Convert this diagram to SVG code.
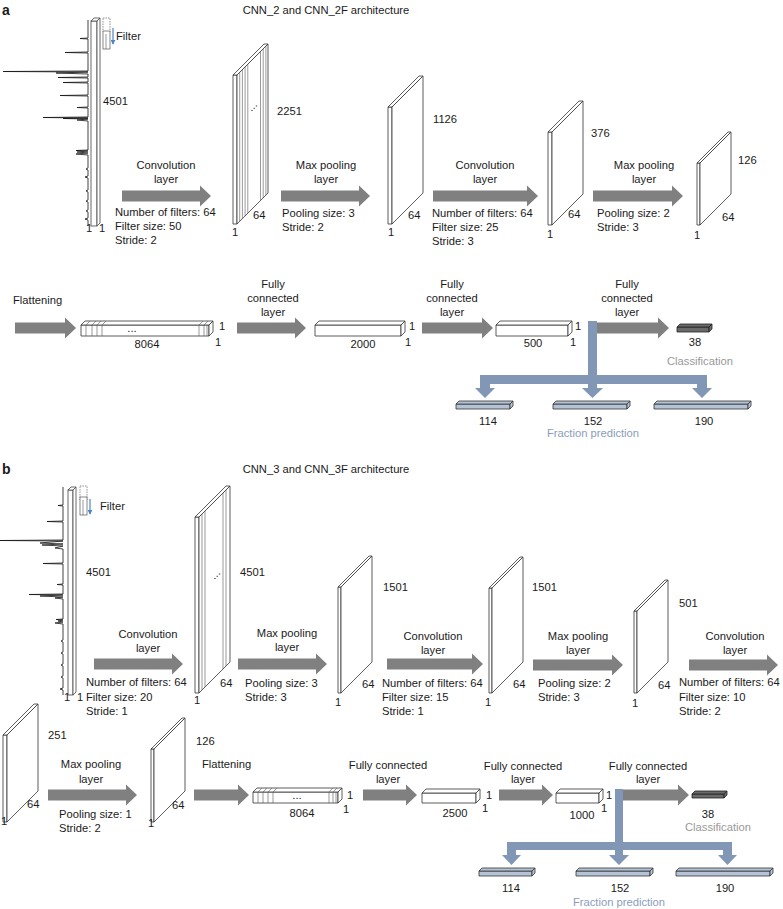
<svg xmlns="http://www.w3.org/2000/svg" width="783" height="909" viewBox="0 0 783 909">
<style>
text{font-family:"Liberation Sans",Arial,sans-serif;font-size:11.2px;fill:#1a1a1a}
.m{text-anchor:middle}
.lab{font-weight:bold;font-size:14px}
.arr{fill:#808080}
.blue{fill:#8197b5}
.slab{fill:#fff;stroke:#333;stroke-width:0.8;stroke-linejoin:round}
.str{stroke:#555;stroke-width:0.6;fill:none}
.bar{fill:#fff;stroke:#333;stroke-width:0.8;stroke-linejoin:round}
.dark{fill:#6a6a6a;stroke:#222;stroke-width:0.8;stroke-linejoin:round}
.fb{fill:#b5c3d6;stroke:#333;stroke-width:0.8;stroke-linejoin:round}
.spec{fill:none;stroke:#111;stroke-width:0.8;stroke-linejoin:round}
.col{fill:#fff;stroke:#444;stroke-width:0.8}
.dash{fill:none;stroke:#666;stroke-width:0.7;stroke-dasharray:1.5 1}
.fil{fill:#fff;stroke:#555;stroke-width:0.7}
.gray{fill:#999}
.fp{fill:#8a9dba}
</style>
<defs>
<marker id="bh" viewBox="0 0 6 6" refX="5" refY="3" markerWidth="5" markerHeight="5" orient="auto" markerUnits="userSpaceOnUse"><path d="M0,0 L6,3 L0,6 Z" fill="#4a86c8"/></marker>
</defs>

<!-- ===== Panel a ===== -->
<text class="lab" x="2" y="15">a</text>
<text class="m" x="326" y="14">CNN_2 and CNN_2F architecture</text>

<g id="a-input">
<path class="spec" d="M88,20 V38 L80,38.5 L88,39 V52 L65,52.5 L88,53 V71 L3,71.5 L88,72 L56,73 L88,74 V77 L58,77.5 L88,78 V82 L63,82.5 L88,83 V95 L60,95.5 L88,96 V107 L77,107.5 L88,108 V117 L43,117.5 L88,118 L63,118.5 L88,119 L77,120 L88,121 V150 L76,150.5 L88,151 L77,152 L88,153 L76,154 L88,155 V168 L86,169 L88,170 V176 L85,177 L88,178 V190 L86,191 L88,192 V200 L86,201 L88,202 V210 L86,211 L88,212 V218 L85,219 L88,220 V226"/>
<rect class="col" x="91" y="21" width="6" height="205"/>
<polygon class="col" points="91,21 94,18 100,18 97,21"/>
<polygon class="col" points="97,21 100,18 100,223 97,226"/>
<rect class="dash" x="103" y="18" width="7" height="14"/>
<rect class="fil" x="103" y="31" width="7" height="18"/>
<line class="str" x1="106" y1="34" x2="106" y2="49"/>
<line x1="113" y1="28" x2="113" y2="44" stroke="#4a86c8" stroke-width="1.2" marker-end="url(#bh)"/>
<text x="116" y="40">Filter</text>
<text x="103" y="105">4501</text>
<text class="m" x="89" y="232">1</text>
<text class="m" x="102" y="232">1</text>
</g>

<g id="a-conv1">
<rect class="slab" x="233" y="75" width="4" height="149"/>
<polygon class="slab" points="233,75 264,44 268,44 237,75"/>
<polygon class="slab" points="237,75 268,44 268,193 237,224"/>
<path class="str" d="M239.7,72.3 V221.3 M242.4,69.6 V218.6 M245.1,66.9 V215.9 M247.8,64.2 V213.2 M260.5,51.5 V200.5 M263.2,48.8 V197.8 M265.9,46.1 V195.1"/>
<text x="248" y="110" transform="rotate(-45 252 107)" font-size="9">...</text>
<text x="277" y="115">2251</text>
<text x="253" y="219">64</text>
<text class="m" x="235" y="236">1</text>
</g>

<g id="a-pool1">
<rect class="slab" x="388" y="107" width="4" height="117"/>
<polygon class="slab" points="388,107 419,76 423,76 392,107"/>
<polygon class="slab" points="392,107 423,76 423,193 392,224"/>
<text x="433" y="123">1126</text>
<text x="408" y="219">64</text>
<text class="m" x="391" y="236">1</text>
</g>

<g id="a-conv2">
<rect class="slab" x="548" y="132" width="4" height="93"/>
<polygon class="slab" points="548,132 579,101 583,101 552,132"/>
<polygon class="slab" points="552,132 583,101 583,194 552,225"/>
<text x="591" y="137">376</text>
<text x="568" y="218">64</text>
<text class="m" x="550" y="238">1</text>
</g>

<g id="a-pool2">
<rect class="slab" x="697" y="163" width="3" height="62"/>
<polygon class="slab" points="697,163 728,132 731,132 700,163"/>
<polygon class="slab" points="700,163 731,132 731,194 700,225"/>
<text x="738" y="164">126</text>
<text x="722" y="221">64</text>
<text class="m" x="697" y="239">1</text>
</g>

<g id="a-flat">
<rect class="bar" x="81" y="325" width="128" height="11"/>
<polygon class="bar" points="81,325 85,321 213,321 209,325"/>
<polygon class="bar" points="209,325 213,321 213,332 209,336"/>
<path class="str" d="M86,325 V336 M86,325 L90,321 M92,325 V336 M92,325 L96,321 M97,325 V336 M97,325 L101,321 M102,325 V336 M102,325 L106,321 M199,325 V336 M199,325 L203,321 M204,325 V336 M204,325 L208,321 M207,325 V336"/>
<text class="m" x="132" y="332">...</text>
<text class="m" x="147" y="348">8064</text>
<text x="219" y="330">1</text>
<text x="215" y="346">1</text>
</g>

<g id="a-fc1">
<rect class="bar" x="315" y="325" width="86" height="11"/>
<polygon class="bar" points="315,325 319,321 405,321 401,325"/>
<polygon class="bar" points="401,325 405,321 405,332 401,336"/>
<text class="m" x="363" y="348">2000</text>
<text x="409" y="330">1</text>
<text x="405" y="346">1</text>
</g>

<g id="a-fc2">
<rect class="bar" x="496" y="325" width="72" height="11"/>
<polygon class="bar" points="496,325 500,321 572,321 568,325"/>
<polygon class="bar" points="568,325 572,321 572,332 568,336"/>
<text class="m" x="533" y="347">500</text>
<text x="575" y="330">1</text>
<text x="570" y="346">1</text>
</g>

<g id="a-cls">
<rect class="dark" x="677" y="327" width="32" height="5"/>
<polygon class="dark" points="677,327 680,324 712,324 709,327"/>
<polygon class="dark" points="709,327 712,324 712,329 709,332"/>
<text class="m" x="695" y="346">38</text>
<text class="m gray" x="700" y="365">Classification</text>
</g>

<g id="a-frac">
<rect class="fb" x="456" y="404" width="54" height="5"/>
<polygon class="fb" points="456,404 459,401 513,401 510,404"/>
<polygon class="fb" points="510,404 513,401 513,406 510,409"/>
<rect class="fb" x="553" y="404" width="74" height="5"/>
<polygon class="fb" points="553,404 556,401 630,401 627,404"/>
<polygon class="fb" points="627,404 630,401 630,406 627,409"/>
<rect class="fb" x="654" y="404" width="94" height="5"/>
<polygon class="fb" points="654,404 657,401 751,401 748,404"/>
<polygon class="fb" points="748,404 751,401 751,406 748,409"/>
<text class="m" x="488" y="425">114</text>
<text class="m" x="593" y="425">152</text>
<text class="m" x="704" y="425">190</text>
<text class="m fp" x="593" y="437">Fraction prediction</text>
</g>

<!-- ===== Panel b ===== -->
<text class="lab" x="2" y="474">b</text>
<text class="m" x="326" y="473">CNN_3 and CNN_3F architecture</text>

<g id="b-input">
<path class="spec" d="M63,487 V505 L58,505.5 L63,506 V521 L47,521.5 L63,522 V540 L0,540.5 L63,541 L40,543 L63,544 L42,545 L63,546 L55,548 L63,549 V563 L43,563.5 L63,564 V584 L57,584.5 L63,585 V594 L29,594.5 L63,595 L40,596 L63,597 L55,598 L63,599 V619 L56,619.5 L63,620 L58,621 L63,622 L55,623 L63,624 V640 L61,641 L63,642 V652 L61,653 L63,654 V664 L61,665 L63,666 V676 L61,677 L63,678 V688 L60,689 L63,690 V695"/>
<rect class="col" x="68" y="490" width="5" height="205"/>
<polygon class="col" points="68,490 71,487 76,487 73,490"/>
<polygon class="col" points="73,490 76,487 76,692 73,695"/>
<rect class="dash" x="80" y="486" width="7" height="14"/>
<rect class="fil" x="80" y="497" width="7" height="18"/>
<line class="str" x1="83" y1="500" x2="83" y2="515"/>
<line x1="90" y1="499" x2="90" y2="514" stroke="#4a86c8" stroke-width="1.2" marker-end="url(#bh)"/>
<text x="100" y="510">Filter</text>
<text x="86" y="576">4501</text>
<text class="m" x="67" y="701">1</text>
<text class="m" x="80" y="701">1</text>
</g>

<g id="b-conv1">
<rect class="slab" x="195" y="517" width="4" height="176"/>
<polygon class="slab" points="195,517 226,486 230,486 199,517"/>
<polygon class="slab" points="199,517 230,486 230,662 199,693"/>
<path class="str" d="M202,514 V690 M205,511 V687 M223,493 V669 M226,490 V666"/>
<text x="211" y="578" transform="rotate(-45 215 575)" font-size="9">...</text>
<text x="240" y="576">4501</text>
<text x="220" y="687">64</text>
<text class="m" x="197" y="704">1</text>
</g>

<g id="b-pool1">
<rect class="slab" x="338" y="587" width="3" height="106"/>
<polygon class="slab" points="338,587 369,556 372,556 341,587"/>
<polygon class="slab" points="341,587 372,556 372,662 341,693"/>
<text x="383" y="591">1501</text>
<text x="362" y="688">64</text>
<text class="m" x="338" y="706">1</text>
</g>

<g id="b-conv2">
<rect class="slab" x="489" y="588" width="3" height="105"/>
<polygon class="slab" points="489,588 520,557 523,557 492,588"/>
<polygon class="slab" points="492,588 523,557 523,662 492,693"/>
<text x="532" y="591">1501</text>
<text x="513" y="688">64</text>
<text class="m" x="488" y="706">1</text>
</g>

<g id="b-pool2">
<rect class="slab" x="634" y="611" width="3" height="82"/>
<polygon class="slab" points="634,611 665,580 668,580 637,611"/>
<polygon class="slab" points="637,611 668,580 668,662 637,693"/>
<text x="679" y="607">501</text>
<text x="658" y="689">64</text>
<text class="m" x="635" y="707">1</text>
</g>

<g id="b-conv3">
<rect class="slab" x="3" y="735" width="4" height="87"/>
<polygon class="slab" points="3,735 34,704 38,704 7,735"/>
<polygon class="slab" points="7,735 38,704 38,791 7,822"/>
<text x="48" y="739">251</text>
<text x="27" y="808">64</text>
<text class="m" x="4" y="825">1</text>
</g>

<g id="b-pool3">
<rect class="slab" x="151" y="749" width="3" height="73"/>
<polygon class="slab" points="151,749 182,718 185,718 154,749"/>
<polygon class="slab" points="154,749 185,718 185,791 154,822"/>
<text x="196" y="745">126</text>
<text x="172" y="809">64</text>
<text class="m" x="151" y="827">1</text>
</g>

<g id="b-flat">
<rect class="bar" x="253" y="792" width="85" height="11"/>
<polygon class="bar" points="253,792 257,788 342,788 338,792"/>
<polygon class="bar" points="338,792 342,788 342,799 338,803"/>
<path class="str" d="M258,792 V803 M258,792 L262,788 M263,792 V803 M263,792 L267,788 M268,792 V803 M268,792 L272,788 M273,792 V803 M273,792 L277,788 M329,792 V803 M329,792 L333,788 M333,792 V803 M333,792 L337,788 M336,792 V803"/>
<text class="m" x="297" y="799">...</text>
<text class="m" x="302" y="817">8064</text>
<text x="347" y="799">1</text>
<text x="343" y="813">1</text>
</g>

<g id="b-fc1">
<rect class="bar" x="422" y="793" width="54" height="10"/>
<polygon class="bar" points="422,793 426,789 480,789 476,793"/>
<polygon class="bar" points="476,793 480,789 480,799 476,803"/>
<text class="m" x="455" y="817">2500</text>
<text x="486" y="799">1</text>
<text x="482" y="812">1</text>
</g>

<g id="b-fc2">
<rect class="bar" x="556" y="793" width="43" height="10"/>
<polygon class="bar" points="556,793 560,789 603,789 599,793"/>
<polygon class="bar" points="599,793 603,789 603,799 599,803"/>
<text class="m" x="582" y="819">1000</text>
<text x="606" y="799">1</text>
<text x="601" y="812">1</text>
</g>

<g id="b-cls">
<rect class="dark" x="692" y="794" width="32" height="4"/>
<polygon class="dark" points="692,794 695,791 727,791 724,794"/>
<polygon class="dark" points="724,794 727,791 727,795 724,798"/>
<text class="m" x="708" y="818">38</text>
<text class="m gray" x="718" y="831">Classification</text>
</g>

<g id="b-frac">
<rect class="fb" x="479" y="871" width="53" height="5"/>
<polygon class="fb" points="479,871 482,868 535,868 532,871"/>
<polygon class="fb" points="532,871 535,868 535,873 532,876"/>
<rect class="fb" x="576" y="871" width="74" height="5"/>
<polygon class="fb" points="576,871 579,868 653,868 650,871"/>
<polygon class="fb" points="650,871 653,868 653,873 650,876"/>
<rect class="fb" x="676" y="871" width="94" height="5"/>
<polygon class="fb" points="676,871 679,868 773,868 770,871"/>
<polygon class="fb" points="770,871 773,868 773,873 770,876"/>
<text class="m" x="511" y="892">114</text>
<text class="m" x="620" y="892">152</text>
<text class="m" x="725" y="892">190</text>
<text class="m fp" x="619" y="906">Fraction prediction</text>
</g>

<!-- ===== Connectors ===== -->
<g id="connectors">
<polygon class="arr" points="122,190.5 200,190.5 200,185.5 211,196 200,206.5 200,201.5 122,201.5"/>
<polygon class="arr" points="281,190.5 359,190.5 359,185.5 370,196 359,206.5 359,201.5 281,201.5"/>
<polygon class="arr" points="433,190.5 527,190.5 527,185.5 538,196 527,206.5 527,201.5 433,201.5"/>
<polygon class="arr" points="593,190.5 672,190.5 672,185.5 683,196 672,206.5 672,201.5 593,201.5"/>
<polygon class="arr" points="15,322.5 65,322.5 65,317.5 76,328 65,338.5 65,333.5 15,333.5"/>
<polygon class="arr" points="237,322.5 295,322.5 295,317.5 306,328 295,338.5 295,333.5 237,333.5"/>
<polygon class="arr" points="422,322.5 482,322.5 482,317.5 493,328 482,338.5 482,333.5 422,333.5"/>
<polygon class="arr" points="597,322.5 658,322.5 658,317.5 669,328 658,338.5 658,333.5 597,333.5"/>
<path class="blue" d="M588,321 H597 V375 H707 V388 H712 L702,398 L692,388 H697 V384 H597 V388 H603 L592.5,398 L582,388 H588 V384 H490 V388 H495 L485,398 L475,388 H480 V375 H588 Z"/>

<polygon class="arr" points="94,658.5 172,658.5 172,653.5 183,664 172,674.5 172,669.5 94,669.5"/>
<polygon class="arr" points="238,658.5 316,658.5 316,653.5 327,664 316,674.5 316,669.5 238,669.5"/>
<polygon class="arr" points="387,658.5 472,658.5 472,653.5 483,664 472,674.5 472,669.5 387,669.5"/>
<polygon class="arr" points="533,659.5 612,659.5 612,654.5 623,665 612,675.5 612,670.5 533,670.5"/>
<polygon class="arr" points="689,659.5 767,659.5 767,654.5 778,665 767,675.5 767,670.5 689,670.5"/>
<polygon class="arr" points="48,789.5 126,789.5 126,784.5 137,795 126,805.5 126,800.5 48,800.5"/>
<polygon class="arr" points="194,789.5 238,789.5 238,784.5 249,795 238,805.5 238,800.5 194,800.5"/>
<polygon class="arr" points="363,789.5 406,789.5 406,784.5 417,795 406,805.5 406,800.5 363,800.5"/>
<polygon class="arr" points="499,789.5 542,789.5 542,784.5 553,795 542,805.5 542,800.5 499,800.5"/>
<polygon class="arr" points="623,789.5 678,789.5 678,784.5 689,795 678,805.5 678,800.5 623,800.5"/>
<path class="blue" d="M615,789 H623 V842 H732 V855 H737 L727.5,865 L718,855 H723 V850 H623 V855 H629 L619,865 L609,855 H615 V850 H516 V855 H521 L511.5,865 L502,855 H507 V842 H615 Z"/>
</g>

<!-- ===== Connector labels ===== -->
<g id="labels-a">
<text class="m" x="166" y="169">Convolution</text>
<text class="m" x="166" y="183">layer</text>
<text x="115" y="216">Number of filters: 64</text>
<text x="115" y="230">Filter size: 50</text>
<text x="115" y="244">Stride: 2</text>
<text class="m" x="326" y="169">Max pooling</text>
<text class="m" x="326" y="183">layer</text>
<text x="282" y="217">Pooling size: 3</text>
<text x="282" y="231">Stride: 2</text>
<text class="m" x="485" y="169">Convolution</text>
<text class="m" x="485" y="183">layer</text>
<text x="432" y="217">Number of filters: 64</text>
<text x="432" y="231">Filter size: 25</text>
<text x="432" y="245">Stride: 3</text>
<text class="m" x="644" y="169">Max pooling</text>
<text class="m" x="644" y="183">layer</text>
<text x="597" y="217">Pooling size: 2</text>
<text x="597" y="231">Stride: 3</text>
<text x="13" y="304">Flattening</text>
<text class="m" x="273" y="288">Fully</text>
<text class="m" x="273" y="302">connected</text>
<text class="m" x="273" y="316">layer</text>
<text class="m" x="452" y="288">Fully</text>
<text class="m" x="452" y="302">connected</text>
<text class="m" x="452" y="316">layer</text>
<text class="m" x="627" y="288">Fully</text>
<text class="m" x="627" y="302">connected</text>
<text class="m" x="627" y="316">layer</text>
</g>
<g id="labels-b">
<text class="m" x="148" y="638">Convolution</text>
<text class="m" x="148" y="652">layer</text>
<text x="86" y="686">Number of filters: 64</text>
<text x="86" y="701">Filter size: 20</text>
<text x="86" y="715">Stride: 1</text>
<text class="m" x="287" y="637">Max pooling</text>
<text class="m" x="287" y="651">layer</text>
<text x="245" y="687">Pooling size: 3</text>
<text x="245" y="701">Stride: 3</text>
<text class="m" x="433" y="640">Convolution</text>
<text class="m" x="433" y="654">layer</text>
<text x="382" y="687">Number of filters: 64</text>
<text x="382" y="701">Filter size: 15</text>
<text x="382" y="715">Stride: 1</text>
<text class="m" x="578" y="640">Max pooling</text>
<text class="m" x="578" y="654">layer</text>
<text x="538" y="687">Pooling size: 2</text>
<text x="538" y="701">Stride: 3</text>
<text class="m" x="735" y="640">Convolution</text>
<text class="m" x="735" y="654">layer</text>
<text x="679" y="686">Number of filters: 64</text>
<text x="679" y="701">Filter size: 10</text>
<text x="679" y="715">Stride: 2</text>
<text class="m" x="91" y="768">Max pooling</text>
<text class="m" x="91" y="783">layer</text>
<text x="59" y="818">Pooling size: 1</text>
<text x="59" y="832">Stride: 2</text>
<text x="202" y="768">Flattening</text>
<text class="m" x="388" y="769">Fully connected</text>
<text class="m" x="388" y="783">layer</text>
<text class="m" x="523" y="770">Fully connected</text>
<text class="m" x="523" y="783">layer</text>
<text class="m" x="648" y="770">Fully connected</text>
<text class="m" x="648" y="783">layer</text>
</g>
</svg>
